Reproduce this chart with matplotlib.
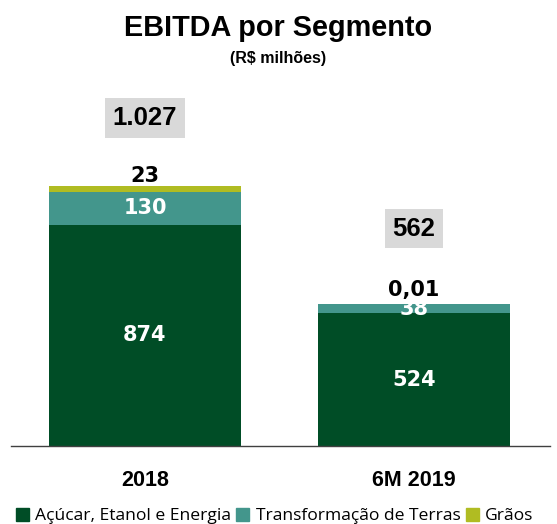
import matplotlib.pyplot as plt
from matplotlib.patches import Patch

categorias = ['2018', '6M 2019']
acucar = [874, 524]
terras = [130, 38]
graos = [23, 0.01]
totais = ['1.027', '562']
rot_acucar = ['874', '524']
rot_terras = ['130', '38']
rot_graos = ['23', '0,01']

cor_acucar = '#004D26'
cor_terras = '#43968C'
cor_graos = '#B0BC22'

fig = plt.figure(figsize=(5.57, 5.24), dpi=100)
ax = fig.add_axes([11 / 557, 78 / 524, 539 / 557, 356 / 524])

x = [0, 1]
w = 0.714
base2 = [a + t for a, t in zip(acucar, terras)]
ax.bar(x, acucar, w, color=cor_acucar)
ax.bar(x, terras, w, bottom=acucar, color=cor_terras)
ax.bar(x, graos, w, bottom=base2, color=cor_graos)

desloc_graos = [0, 3]
for i in range(2):
    ax.text(x[i], acucar[i] / 2, rot_acucar[i], ha='center', va='center',
            color='white', fontsize=15, fontweight='bold', family='DejaVu Sans')
    ax.text(x[i], acucar[i] + terras[i] / 2, rot_terras[i], ha='center', va='center',
            color='white', fontsize=15, fontweight='bold', family='DejaVu Sans')
    topo = base2[i] + graos[i]
    ax.annotate(rot_graos[i], (x[i], topo), xytext=(0, desloc_graos[i]), textcoords='offset points',
                ha='center', va='bottom', fontsize=15, fontweight='bold', family='DejaVu Sans')

ax.annotate(totais[0], (x[0], 1027), xytext=(0, 49), textcoords='offset points',
            ha='center', va='center', fontsize=18.5, fontweight='bold', family='Liberation Sans',
            bbox=dict(boxstyle='square,pad=0.3', fc='#D9D9D9', ec='none'))
ax.annotate(totais[1], (x[1], 562), xytext=(0, 54), textcoords='offset points',
            ha='center', va='center', fontsize=18.5, fontweight='bold', family='Liberation Sans',
            bbox=dict(boxstyle='square,pad=0.3', fc='#D9D9D9', ec='none'))

ax.set_xlim(-0.498, 1.506)
ax.set_ylim(0, 356 / 0.2532)
ax.set_xticks(x)
ax.set_xticklabels(categorias, fontsize=15.5, fontweight='bold', family='Liberation Sans')
ax.tick_params(axis='x', length=0, pad=17)
ax.set_yticks([])
for s in ['top', 'right', 'left']:
    ax.spines[s].set_visible(False)
ax.spines['bottom'].set_color('#404040')
ax.spines['bottom'].set_linewidth(1)

fig.text(0.5, 1 - 28 / 524, 'EBITDA por Segmento', ha='center', va='center',
         fontsize=20.8, fontweight='bold', family='Liberation Sans')
fig.text(0.5, 1 - 58 / 524, '(R$ milhões)', ha='center', va='center',
         fontsize=11.5, fontweight='bold', family='Liberation Sans')

handles = [Patch(color=cor_acucar), Patch(color=cor_terras), Patch(color=cor_graos)]
nomes = ['Açúcar, Etanol e Energia', 'Transformação de Terras', 'Grãos']
fig.legend(handles, nomes, loc='center left', bbox_to_anchor=(0.0, 8 / 524), ncol=3,
           frameon=False, handlelength=0.75, handleheight=0.75, handletextpad=0.35,
           columnspacing=0.3, prop={'family': 'Open Sans', 'size': 12.6})

fig.savefig('out.png', dpi=100)
